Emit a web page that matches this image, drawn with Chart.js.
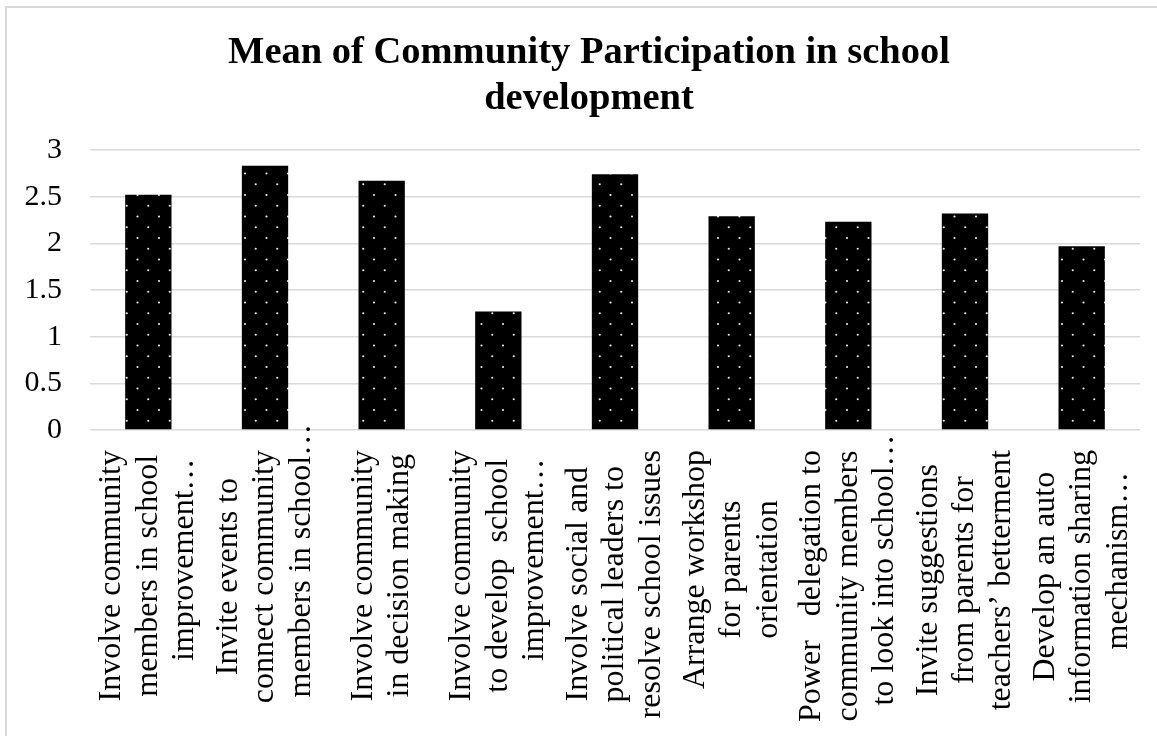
<!DOCTYPE html>
<html><head><meta charset="utf-8">
<script src="https://cdn.jsdelivr.net/npm/chart.js@4/dist/chart.umd.min.js"></script>
<style>html,body{margin:0;padding:0;background:#fff;overflow:hidden}canvas{display:block}</style>
</head><body>
<canvas id="c" width="1157" height="736"></canvas>
<script>
const categories = [
  ['Involve community', 'members in school', 'improvement…'],
  ['Invite events to', 'connect community', 'members in school…'],
  ['Involve community', 'in decision making'],
  ['Involve community', 'to develop  school', 'improvement…'],
  ['Involve social and', 'political leaders to', 'resolve school issues'],
  ['Arrange workshop', 'for parents', 'orientation'],
  ['Power   delegation to', 'community members', 'to look into school…'],
  ['Invite suggestions', 'from parents for', 'teachers’ betterment'],
  ['Develop an auto', 'information sharing', 'mechanism…']
];
const meanValues = [2.52, 2.83, 2.67, 1.27, 2.74, 2.29, 2.23, 2.32, 1.97];
const yMin = 0, yMax = 3, yStep = 0.5;
const titleLines = ['Mean of Community Participation in school', 'development'];

// dotted pattern
function makePattern(ctx) {
  const t = document.createElement('canvas');
  t.width = 43; t.height = 43;
  const g = t.getContext('2d');
  g.fillStyle = '#000'; g.fillRect(0, 0, 43, 43);
  g.fillStyle = '#e8e8e8';
  const pts = [];
  for (let i = 0; i < 2; i++) for (let j = 0; j < 2; j++) {
    pts.push([8.5 + i * 21.5, 1.5 + j * 21.5]);
    pts.push([19.25 + i * 21.5, 12.25 + j * 21.5]);
  }
  pts.forEach(([x, y]) => { g.beginPath(); g.arc(x % 43, y % 43, 1.1, 0, Math.PI * 2); g.fill(); });
  return ctx.createPattern(t, 'repeat');
}

const framePlugin = {
  id: 'frame',
  afterLayout(chart) {
    // the original frame continues past the right edge, so the title sits a little right of centre
    if (chart.titleBlock) chart.titleBlock.right += 32;
  },
  beforeDraw(chart) {
    const ctx = chart.ctx;
    ctx.save();
    ctx.fillStyle = '#fff';
    ctx.fillRect(0, 0, chart.width, chart.height);
    ctx.fillStyle = '#d9d9d9';
    ctx.fillRect(5, 6, 2, chart.height);
    ctx.fillRect(5, 6, chart.width, 2);
    ctx.restore();
  }
};

const xLabelPlugin = {
  id: 'xlabels',
  afterDraw(chart) {
    const ctx = chart.ctx, xs = chart.scales.x;
    const fs = 32, lh = 36.5, top = xs.top + 20;
    ctx.save();
    ctx.font = fs + 'px "Liberation Serif"';
    ctx.fillStyle = '#000';
    ctx.textBaseline = 'middle';
    ctx.textAlign = 'left';
    categories.forEach((lines, i) => {
      const x = xs.getPixelForTick(i);
      const core = lines.map(l => l.replace(/…$/, ''));
      const widths = core.map(l => ctx.measureText(l).width);
      const maxW = Math.max(...widths);
      ctx.save();
      ctx.translate(x, top);
      ctx.rotate(-Math.PI / 2);
      lines.forEach((l, j) => {
        const yOff = (j - (lines.length - 1) / 2) * lh;
        ctx.fillText(l, -maxW / 2 - widths[j] / 2, yOff);
      });
      ctx.restore();
    });
    ctx.restore();
  }
};

const canvas = document.getElementById('c');
const ctx = canvas.getContext('2d');
const pattern = makePattern(ctx);

new Chart(ctx, {
  type: 'bar',
  data: {
    labels: categories,
    datasets: [{
      data: meanValues,
      backgroundColor: pattern,
      borderWidth: 0,
      categoryPercentage: 1,
      barPercentage: 0.397
    }]
  },
  options: {
    responsive: false,
    animation: false,
    layout: { padding: { top: 0, left: 6, right: 17, bottom: 6 } },
    plugins: {
      legend: { display: false },
      tooltip: { enabled: false },
      title: {
        display: true,
        text: titleLines,
        color: '#000',
        font: { family: '"Liberation Serif"', size: 38.5, weight: 'bold', lineHeight: 1.2 },
        padding: { top: 30, bottom: 27.6 }
      }
    },
    scales: {
      x: {
        ticks: { display: false },
        grid: { display: false },
        border: { display: false },
        afterFit(s) { s.height = 300; }
      },
      y: {
        min: yMin, max: yMax,
        ticks: {
          stepSize: yStep,
          color: '#000',
          padding: 28,
          font: { family: '"Liberation Serif"', size: 30 },
          callback: (v) => String(v)
        },
        grid: { color: '#d9d9d9', lineWidth: 1.5, drawTicks: false },
        border: { display: false },
        afterFit(s) { s.width = 84; }
      }
    }
  },
  plugins: [framePlugin, xLabelPlugin]
});
</script>
</body></html>
